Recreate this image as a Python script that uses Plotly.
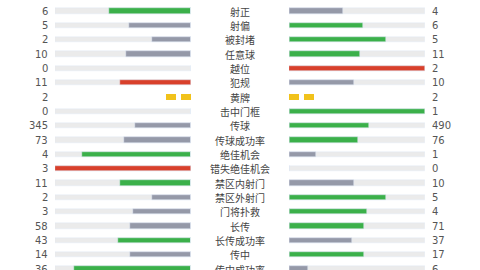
import plotly.graph_objects as go

labels = ["射正", "射偏", "被封堵", "任意球", "越位", "犯规", "黄牌", "击中门框", "传球",
          "传球成功率", "绝佳机会", "错失绝佳机会", "禁区内射门", "禁区外射门", "门将扑救",
          "长传", "长传成功率", "传中", "传中成功率"]
home = [6, 5, 2, 10, 0, 11, 2, 0, 345, 73, 4, 3, 11, 2, 3, 58, 43, 14, 36]
away = [4, 6, 5, 11, 2, 10, 2, 1, 490, 76, 1, 0, 10, 5, 4, 71, 37, 17, 6]
# bar colour per side: g = better, s = worse, r = bad stat, c = cards
home_kind = ["g", "s", "s", "s", "s", "r", "c", "s", "s", "s", "g", "r", "g", "s", "s", "s", "g", "s", "g"]
away_kind = ["s", "g", "g", "g", "r", "s", "c", "g", "g", "g", "s", "s", "s", "g", "g", "g", "s", "g", "s"]

COLORS = {"g": "#3bb04a", "s": "#9599a8", "r": "#d8402b"}
TRACK = "#ebebeb"
CARD = "#f1c21b"

W, H = 480, 270
n = len(labels)
rows = list(range(n))
px_per_row = 14.33
y_top = -11 / px_per_row
y_bot = (n - 1) + (H - 269) / px_per_row

fig = go.Figure()

def side(axis, vals, other, kinds):
    track = [0 if k == "c" else 1 for k in kinds]
    fig.add_trace(go.Bar(y=rows, x=track, orientation="h", marker_color=TRACK,
                         width=0.36, xaxis=axis, yaxis="y", hoverinfo="skip",
                         showlegend=False))
    for kind in ["g", "s", "r"]:
        xs = []
        for v, o, k in zip(vals, other, kinds):
            tot = v + o
            xs.append(v / tot if (k == kind and tot > 0) else 0)
        fig.add_trace(go.Bar(y=rows, x=xs, orientation="h", marker_color=COLORS[kind],
                             width=0.36, xaxis=axis, yaxis="y", hoverinfo="skip",
                             showlegend=False))
    # yellow cards
    card_w = 10 / 136
    gap = 15 / 136
    for v, k, r in zip(vals, kinds, rows):
        if k == "c":
            for i in range(v):
                fig.add_trace(go.Bar(y=[r], x=[card_w], base=[i * gap], orientation="h",
                                     marker=dict(color=CARD, line=dict(width=0)),
                                     width=0.42, xaxis=axis, yaxis="y",
                                     hoverinfo="skip", showlegend=False))

side("x", home, away, home_kind)
side("x2", away, home, away_kind)

ann = []
for r, lab, h, a in zip(rows, labels, home, away):
    ann.append(dict(x=0.5, y=r, xref="paper", yref="y", text=lab, showarrow=False,
                    xanchor="center", yanchor="middle",
                    font=dict(family="Noto Sans CJK SC", size=10, color="#444444")))
    ann.append(dict(x=50 / W, y=r, xref="paper", yref="y", text=str(h), showarrow=False,
                    xanchor="right", yanchor="middle",
                    font=dict(family="DejaVu Sans", size=10, color="#555555")))
    ann.append(dict(x=430 / W, y=r, xref="paper", yref="y", text=str(a), showarrow=False,
                    xanchor="left", yanchor="middle",
                    font=dict(family="DejaVu Sans", size=10, color="#555555")))

fig.update_layout(
    width=W, height=H, margin=dict(l=0, r=0, t=0, b=0),
    paper_bgcolor="white", plot_bgcolor="white",
    barmode="overlay", bargap=0,
    xaxis=dict(domain=[55 / W, 191 / W], range=[1, 0], visible=False, fixedrange=True),
    xaxis2=dict(domain=[289 / W, 425 / W], range=[0, 1], visible=False, fixedrange=True),
    yaxis=dict(range=[y_bot, y_top], visible=False, fixedrange=True),
    annotations=ann,
)

fig.write_html("out.html")
